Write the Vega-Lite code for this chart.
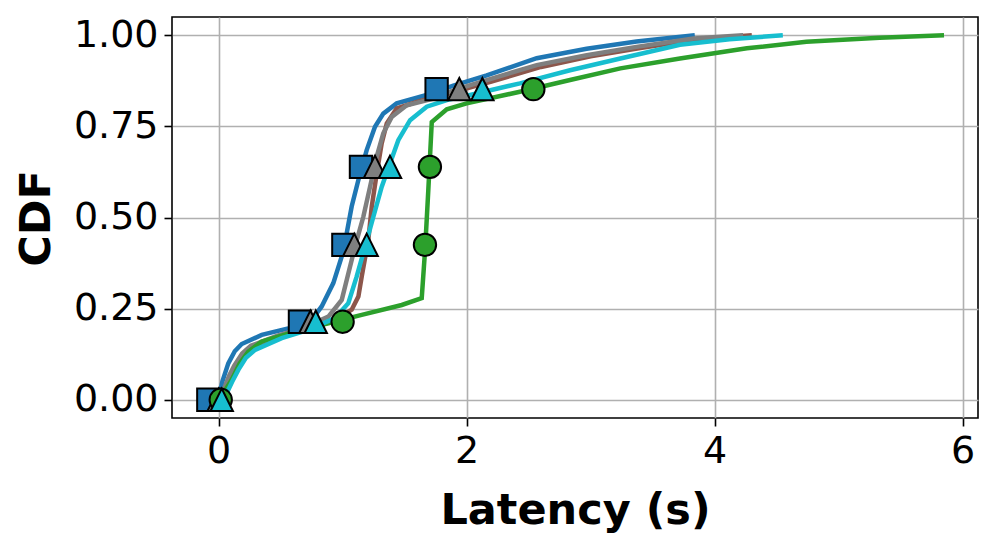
{
  "$schema": "https://vega.github.io/schema/vega-lite/v6.json",
  "width": 806,
  "height": 401,
  "autosize": {"type": "none"},
  "padding": {"left": 172, "top": 17, "right": 19, "bottom": 124},
  "background": "white",
  "config": {
    "font": "DejaVu Sans",
    "view": {"stroke": "black", "strokeWidth": 1.6},
    "axis": {
      "domain": false,
      "grid": true,
      "gridColor": "#b0b0b0",
      "gridWidth": 1.6,
      "ticks": true,
      "tickColor": "black",
      "tickWidth": 1.6,
      "tickSize": 8,
      "labelFont": "DejaVu Sans",
      "labelFontSize": 38,
      "labelColor": "black",
      "labelPadding": 6,
      "labelFlush": false,
      "labelOverlap": false,
      "titleFont": "DejaVu Sans",
      "titleFontSize": 43,
      "titleFontWeight": "bold",
      "titleColor": "black"
    }
  },
  "datasets": {
    "lines": [
      {"series": "blue", "x": 0.0, "y": 0.0},
      {"series": "blue", "x": 0.03, "y": 0.05},
      {"series": "blue", "x": 0.078, "y": 0.10},
      {"series": "blue", "x": 0.13, "y": 0.133},
      {"series": "blue", "x": 0.186, "y": 0.153},
      {"series": "blue", "x": 0.348, "y": 0.178},
      {"series": "blue", "x": 0.562, "y": 0.196},
      {"series": "blue", "x": 0.751, "y": 0.219},
      {"series": "blue", "x": 0.831, "y": 0.256},
      {"series": "blue", "x": 0.925, "y": 0.320},
      {"series": "blue", "x": 0.993, "y": 0.393},
      {"series": "blue", "x": 1.033, "y": 0.457},
      {"series": "blue", "x": 1.073, "y": 0.530},
      {"series": "blue", "x": 1.127, "y": 0.603},
      {"series": "blue", "x": 1.194, "y": 0.685},
      {"series": "blue", "x": 1.261, "y": 0.749},
      {"series": "blue", "x": 1.328, "y": 0.785},
      {"series": "blue", "x": 1.436, "y": 0.813},
      {"series": "blue", "x": 1.678, "y": 0.836},
      {"series": "blue", "x": 1.893, "y": 0.862},
      {"series": "blue", "x": 2.162, "y": 0.890},
      {"series": "blue", "x": 2.565, "y": 0.937},
      {"series": "blue", "x": 2.968, "y": 0.963},
      {"series": "blue", "x": 3.37, "y": 0.983},
      {"series": "blue", "x": 3.84, "y": 1.0},

      {"series": "brown", "x": 0.03, "y": 0.0},
      {"series": "brown", "x": 0.045, "y": 0.027},
      {"series": "brown", "x": 0.09, "y": 0.065},
      {"series": "brown", "x": 0.132, "y": 0.091},
      {"series": "brown", "x": 0.2, "y": 0.125},
      {"series": "brown", "x": 0.267, "y": 0.146},
      {"series": "brown", "x": 0.481, "y": 0.173},
      {"series": "brown", "x": 0.697, "y": 0.196},
      {"series": "brown", "x": 0.939, "y": 0.219},
      {"series": "brown", "x": 1.073, "y": 0.247},
      {"series": "brown", "x": 1.127, "y": 0.283},
      {"series": "brown", "x": 1.155, "y": 0.340},
      {"series": "brown", "x": 1.207, "y": 0.438},
      {"series": "brown", "x": 1.235, "y": 0.530},
      {"series": "brown", "x": 1.275, "y": 0.621},
      {"series": "brown", "x": 1.315, "y": 0.703},
      {"series": "brown", "x": 1.356, "y": 0.758},
      {"series": "brown", "x": 1.436, "y": 0.799},
      {"series": "brown", "x": 1.598, "y": 0.817},
      {"series": "brown", "x": 1.9, "y": 0.845},
      {"series": "brown", "x": 2.2, "y": 0.873},
      {"series": "brown", "x": 2.6, "y": 0.913},
      {"series": "brown", "x": 3.0, "y": 0.942},
      {"series": "brown", "x": 3.4, "y": 0.965},
      {"series": "brown", "x": 3.85, "y": 0.988},
      {"series": "brown", "x": 4.30, "y": 1.0},

      {"series": "gray", "x": 0.02, "y": 0.0},
      {"series": "gray", "x": 0.04, "y": 0.027},
      {"series": "gray", "x": 0.085, "y": 0.066},
      {"series": "gray", "x": 0.125, "y": 0.093},
      {"series": "gray", "x": 0.19, "y": 0.127},
      {"series": "gray", "x": 0.26, "y": 0.148},
      {"series": "gray", "x": 0.47, "y": 0.175},
      {"series": "gray", "x": 0.69, "y": 0.198},
      {"series": "gray", "x": 0.885, "y": 0.228},
      {"series": "gray", "x": 0.993, "y": 0.274},
      {"series": "gray", "x": 1.040, "y": 0.338},
      {"series": "gray", "x": 1.10, "y": 0.42},
      {"series": "gray", "x": 1.167, "y": 0.502},
      {"series": "gray", "x": 1.221, "y": 0.584},
      {"series": "gray", "x": 1.275, "y": 0.667},
      {"series": "gray", "x": 1.328, "y": 0.731},
      {"series": "gray", "x": 1.396, "y": 0.776},
      {"series": "gray", "x": 1.517, "y": 0.808},
      {"series": "gray", "x": 1.731, "y": 0.826},
      {"series": "gray", "x": 1.893, "y": 0.849},
      {"series": "gray", "x": 2.162, "y": 0.877},
      {"series": "gray", "x": 2.565, "y": 0.918},
      {"series": "gray", "x": 2.968, "y": 0.945},
      {"series": "gray", "x": 3.37, "y": 0.968},
      {"series": "gray", "x": 3.83, "y": 0.991},
      {"series": "gray", "x": 4.23, "y": 1.0},

      {"series": "green", "x": 0.02, "y": 0.0},
      {"series": "green", "x": 0.06, "y": 0.03},
      {"series": "green", "x": 0.106, "y": 0.055},
      {"series": "green", "x": 0.17, "y": 0.10},
      {"series": "green", "x": 0.24, "y": 0.132},
      {"series": "green", "x": 0.348, "y": 0.160},
      {"series": "green", "x": 0.616, "y": 0.187},
      {"series": "green", "x": 0.885, "y": 0.210},
      {"series": "green", "x": 1.154, "y": 0.233},
      {"series": "green", "x": 1.477, "y": 0.26},
      {"series": "green", "x": 1.638, "y": 0.279},
      {"series": "green", "x": 1.665, "y": 0.411},
      {"series": "green", "x": 1.691, "y": 0.575},
      {"series": "green", "x": 1.719, "y": 0.762},
      {"series": "green", "x": 1.84, "y": 0.797},
      {"series": "green", "x": 2.0, "y": 0.813},
      {"series": "green", "x": 2.43, "y": 0.845},
      {"series": "green", "x": 2.834, "y": 0.877},
      {"series": "green", "x": 3.24, "y": 0.909},
      {"series": "green", "x": 3.72, "y": 0.936},
      {"series": "green", "x": 4.26, "y": 0.964},
      {"series": "green", "x": 4.74, "y": 0.982},
      {"series": "green", "x": 5.33, "y": 0.993},
      {"series": "green", "x": 5.85, "y": 1.0},

      {"series": "cyan", "x": 0.04, "y": 0.0},
      {"series": "cyan", "x": 0.065, "y": 0.018},
      {"series": "cyan", "x": 0.11, "y": 0.05},
      {"series": "cyan", "x": 0.159, "y": 0.082},
      {"series": "cyan", "x": 0.22, "y": 0.115},
      {"series": "cyan", "x": 0.294, "y": 0.137},
      {"series": "cyan", "x": 0.509, "y": 0.169},
      {"series": "cyan", "x": 0.723, "y": 0.192},
      {"series": "cyan", "x": 0.939, "y": 0.224},
      {"series": "cyan", "x": 1.046, "y": 0.265},
      {"series": "cyan", "x": 1.113, "y": 0.338},
      {"series": "cyan", "x": 1.181, "y": 0.42},
      {"series": "cyan", "x": 1.248, "y": 0.502},
      {"series": "cyan", "x": 1.315, "y": 0.584},
      {"series": "cyan", "x": 1.382, "y": 0.648},
      {"series": "cyan", "x": 1.449, "y": 0.712},
      {"series": "cyan", "x": 1.544, "y": 0.767},
      {"series": "cyan", "x": 1.678, "y": 0.804},
      {"series": "cyan", "x": 1.84, "y": 0.822},
      {"series": "cyan", "x": 2.028, "y": 0.836},
      {"series": "cyan", "x": 2.43, "y": 0.868},
      {"series": "cyan", "x": 2.834, "y": 0.904},
      {"series": "cyan", "x": 3.24, "y": 0.936},
      {"series": "cyan", "x": 3.72, "y": 0.974},
      {"series": "cyan", "x": 4.12, "y": 0.989},
      {"series": "cyan", "x": 4.55, "y": 1.0}
    ],
    "markers": [
      {"series": "blue", "x": -0.083, "y": 0.0},
      {"series": "blue", "x": 0.656, "y": 0.214},
      {"series": "blue", "x": 1.006, "y": 0.425},
      {"series": "blue", "x": 1.148, "y": 0.639},
      {"series": "blue", "x": 1.758, "y": 0.852},
      {"series": "gray", "x": 0.0, "y": 0.0},
      {"series": "gray", "x": 0.74, "y": 0.214},
      {"series": "gray", "x": 1.094, "y": 0.425},
      {"series": "gray", "x": 1.261, "y": 0.639},
      {"series": "gray", "x": 1.941, "y": 0.852},
      {"series": "green", "x": 0.017, "y": 0.0},
      {"series": "green", "x": 1.0, "y": 0.214},
      {"series": "green", "x": 1.664, "y": 0.425},
      {"series": "green", "x": 1.704, "y": 0.639},
      {"series": "green", "x": 2.538, "y": 0.852},
      {"series": "cyan", "x": 0.025, "y": 0.0},
      {"series": "cyan", "x": 0.783, "y": 0.214},
      {"series": "cyan", "x": 1.194, "y": 0.425},
      {"series": "cyan", "x": 1.382, "y": 0.639},
      {"series": "cyan", "x": 2.127, "y": 0.852}
    ]
  },
  "encoding": {
    "x": {
      "field": "x", "type": "quantitative",
      "scale": {"domain": [-0.376, 6.124], "nice": false, "zero": false},
      "axis": {
        "values": [0, 2, 4, 6], "format": "d",
        "title": "Latency (s)",
        "titleX": 403, "titleY": 105, "titleBaseline": "alphabetic", "titleAlign": "center"
      }
    },
    "y": {
      "field": "y", "type": "quantitative",
      "scale": {"domain": [-0.05, 1.05], "nice": false, "zero": false},
      "axis": {
        "values": [0, 0.25, 0.5, 0.75, 1.0], "format": ".2f",
        "title": "CDF",
        "titleX": -123, "titleY": 201, "titleAngle": 270,
        "titleBaseline": "alphabetic", "titleAlign": "center"
      }
    },
    "color": {
      "field": "series", "type": "nominal", "legend": null,
      "scale": {
        "domain": ["blue", "brown", "gray", "green", "cyan"],
        "range": ["#1f77b4", "#8c564b", "#7f7f7f", "#2ca02c", "#17becf"]
      }
    }
  },
  "layer": [
    {"data": {"name": "lines"}, "transform": [{"filter": "datum.series === 'blue'"}],
     "mark": {"type": "line", "strokeWidth": 4.5, "clip": true}},
    {"data": {"name": "lines"}, "transform": [{"filter": "datum.series === 'brown'"}],
     "mark": {"type": "line", "strokeWidth": 4.5, "clip": true}},
    {"data": {"name": "lines"}, "transform": [{"filter": "datum.series === 'gray'"}],
     "mark": {"type": "line", "strokeWidth": 4.5, "clip": true}},
    {"data": {"name": "lines"}, "transform": [{"filter": "datum.series === 'green'"}],
     "mark": {"type": "line", "strokeWidth": 4.5, "clip": true}},
    {"data": {"name": "lines"}, "transform": [{"filter": "datum.series === 'cyan'"}],
     "mark": {"type": "line", "strokeWidth": 4.5, "clip": true}},
    {"data": {"name": "markers"},
     "mark": {"type": "point", "filled": true, "opacity": 1, "stroke": "black", "strokeWidth": 2, "size": 500},
     "encoding": {
       "shape": {
         "field": "series", "type": "nominal", "legend": null,
         "scale": {
           "domain": ["blue", "gray", "green", "cyan"],
           "range": ["square", "M0,-1L-1,1L1,1Z", "circle", "M0,-1L-1,1L1,1Z"]
         }
       },
       "fill": {
         "field": "series", "type": "nominal", "legend": null,
         "scale": {
           "domain": ["blue", "brown", "gray", "green", "cyan"],
           "range": ["#1f77b4", "#8c564b", "#7f7f7f", "#2ca02c", "#17becf"]
         }
       }
     }}
  ]
}
